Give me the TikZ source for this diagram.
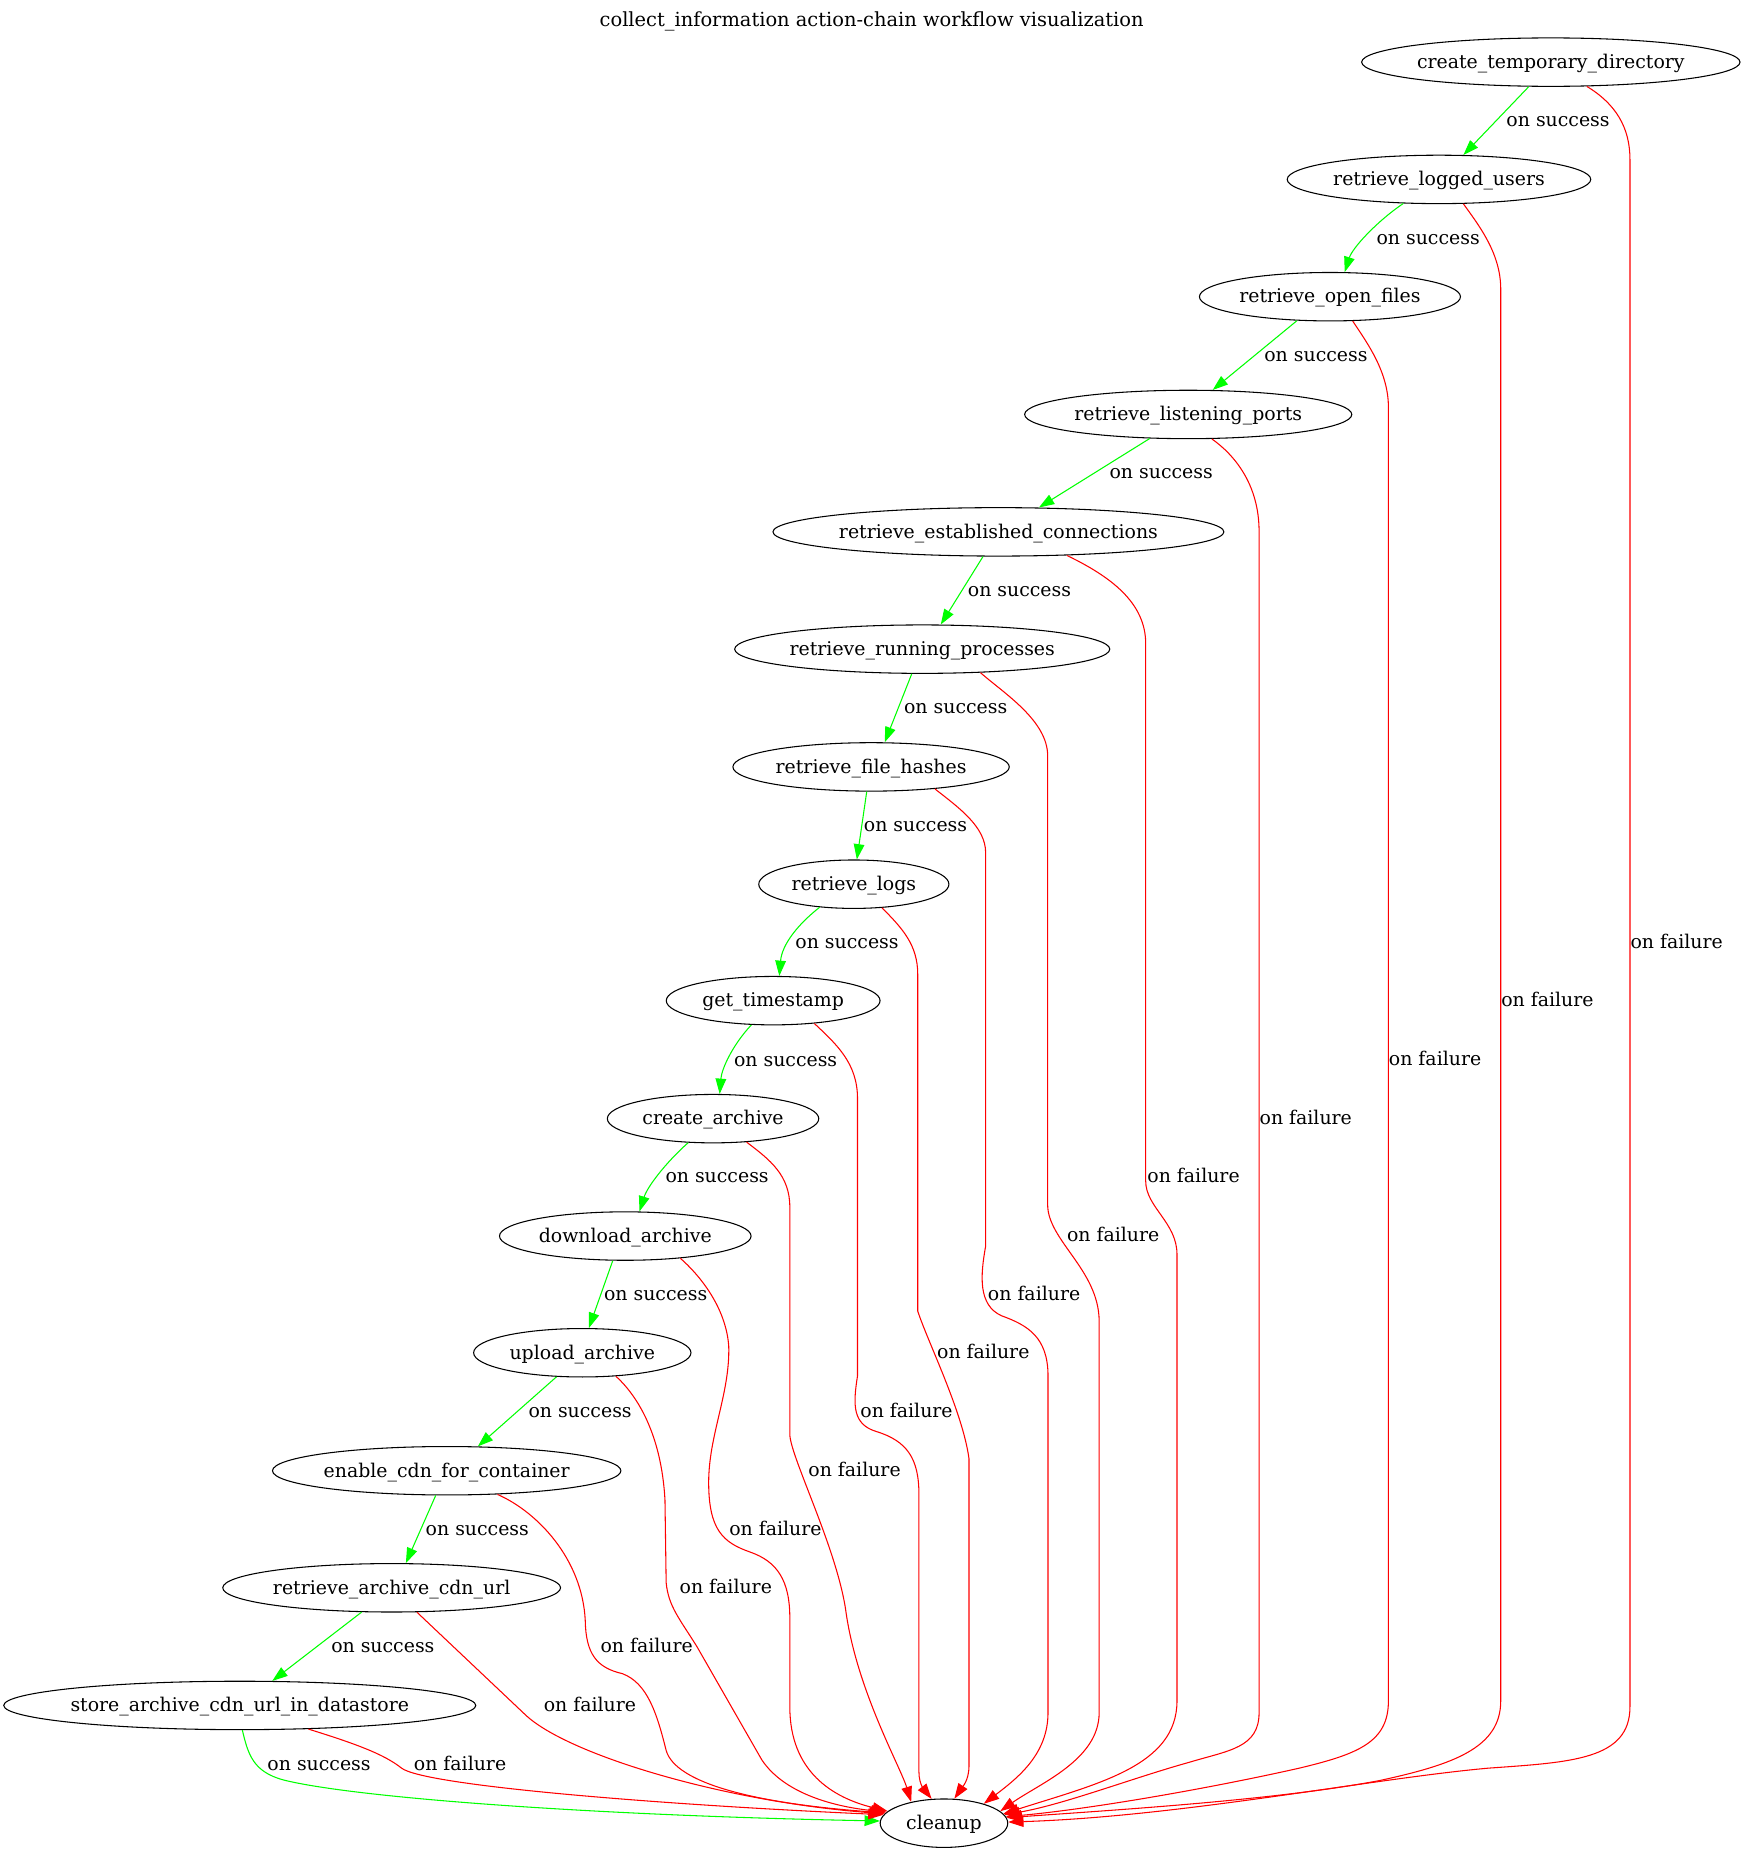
\documentclass[tikz,border=0pt]{standalone}
\usepackage{fontspec}
\setmainfont{DejaVu Serif}
\usetikzlibrary{shapes,arrows.meta,positioning,calc}
\definecolor{okgreen}{RGB}{0,255,0}
\definecolor{failred}{RGB}{255,0,0}
\tikzstyle{act} = [draw, ellipse, line width=0.9pt, inner xsep=0pt, minimum height=41pt, text height=13pt, text depth=2.4pt]
\tikzstyle{ok} = [draw, okgreen, line width=0.9pt, -{Triangle[length=13pt, width=9pt]}]
\tikzstyle{fail} = [draw, failred, line width=0.9pt, -{Triangle[length=13pt, width=9pt]}]
\tikzstyle{lbl} = [anchor=west, inner sep=0pt, text=black, text height=13pt, text depth=2.4pt]

\begin{document}
\begin{tikzpicture}[x=1pt, y=-1pt, font=\fontsize{16}{19}\selectfont]
    \useasboundingbox (0,0) rectangle (1477,1568);
    % Nodes
    \node (title) at (738,17.5) [text height=13pt, text depth=2.4pt, font=\fontsize{16.45}{19}\selectfont] {collect\_information action-chain workflow visualization};
    \node [act, minimum width=319pt] (tmpdir) at (1313,52.6) {create\_temporary\_directory};
    \node [act, minimum width=257pt] (users) at (1218.3,151.9) {retrieve\_logged\_users};
    \node [act, minimum width=221pt] (openfiles) at (1126,251.2) {retrieve\_open\_files};
    \node [act, minimum width=277pt] (ports) at (1006,350.9) {retrieve\_listening\_ports};
    \node [act, minimum width=378pt] (conns) at (845.3,450.3) {retrieve\_established\_connections};
    \node [act, minimum width=316pt] (procs) at (780.8,549.6) {retrieve\_running\_processes};
    \node [act, minimum width=234pt] (hashes) at (737.5,649.3) {retrieve\_file\_hashes};
    \node [act, minimum width=161pt] (logs) at (722.9,748.6) {retrieve\_logs};
    \node [act, minimum width=181pt] (stamp) at (654.6,847.2) {get\_timestamp};
    \node [act, minimum width=179pt] (mkarch) at (603.7,947.1) {create\_archive};
    \node [act, minimum width=213pt] (download) at (529.4,1046.5) {download\_archive};
    \node [act, minimum width=184pt] (upload) at (493,1145.3) {upload\_archive};
    \node [act, minimum width=295pt] (cdn) at (378.2,1245.2) {enable\_cdn\_for\_container};
    \node [act, minimum width=286pt] (cdnurl) at (331.6,1344.3) {retrieve\_archive\_cdn\_url};
    \node [act, minimum width=398pt, inner xsep=-2pt] (store) at (203,1443.9) {store\_archive\_cdn\_url\_in\_datastore};
    \node [act, minimum width=108pt] (cleanup) at (799.2,1543.6) {cleanup};

    % Paths: on success
    \path [ok] (tmpdir.228) -- (users.45) node [lbl] (s1) at (1275,102) {on success};
    \path [ok] (users.214) .. controls (1165,188) and (1145,210) .. (openfiles.59) node [lbl] (s2) at (1165,202) {on success};
    \path [ok] (openfiles.216) -- (ports.45) node [lbl] (s3) at (1070,301) {on success};
    \path [ok] (ports.212) -- (conns.31) node [lbl] (s4) at (939,400) {on success};
    \path [ok] (conns.238) -- (procs.53) node [lbl] (s5) at (819,500) {on success};
    \path [ok] (procs.247) -- (hashes.61) node [lbl] (s6) at (765,599) {on success};
    \path [ok] (hashes.260) -- (logs.83) node [lbl] (s7) at (731,699) {on success};
    \path [ok] (logs.214) .. controls (675,783) and (662,800) .. (stamp.76) node [lbl] (s8) at (673,798) {on success};
    \path [ok] (stamp.228) .. controls (620,885) and (611,905) .. (mkarch.75) node [lbl] (s9) at (621,898) {on success};
    \path [ok] (mkarch.224) .. controls (563,985) and (548,1005) .. (download.60) node [lbl] (s10) at (563,996) {on success};
    \path [ok] (download.243) -- (upload.75) node [lbl] (s11) at (511,1096) {on success};
    \path [ok] (upload.223) -- (cdn.38) node [lbl] (s12) at (447,1195) {on success};
    \path [ok] (cdn.246) -- (cdnurl.60) node [lbl] (s13) at (360,1295) {on success};
    \path [ok] (cdnurl.219) -- (store.37) node [lbl] (s14) at (280,1394) {on success};
    \path [ok] (store.276) .. controls (210,1485) and (214,1500) .. (240,1507) .. controls (300,1522) and (500,1537) .. (cleanup.178) node [lbl] (s15) at (226,1494) {on success};

    % Paths: on failure
    \path [fail] (tmpdir.326) .. controls (1368,88) and (1380,108) .. (1380,135) -- (1380,1445) .. controls (1380,1490) and (1330,1492) .. (1260,1497) .. controls (1160,1506) and (1000,1538) .. (cleanup.1) node [lbl] (f1) at (1380,798) {on failure};
    \path [fail] (users.315) .. controls (1253,192) and (1270.6,215) .. (1270.6,245) -- (1270.6,1440) .. controls (1270.6,1480) and (1230,1494) .. (1168,1507.5) .. controls (1080,1524) and (950,1532) .. (cleanup.5) node [lbl] (f2) at (1270.6,847) {on failure};
    \path [fail] (openfiles.313) .. controls (1158,291) and (1175.5,315) .. (1175.5,345) -- (1175.5,1440) .. controls (1175.5,1475) and (1150,1485) .. (1100,1497) .. controls (1020,1515) and (920,1532) .. (cleanup.6) node [lbl] (f3) at (1175.5,897) {on failure};
    \path [fail] (ports.314) .. controls (1045,385) and (1066,410) .. (1066,450) -- (1066,1450) .. controls (1066,1480) and (1040,1482) .. (1007,1492) .. controls (960,1505) and (900,1528) .. (cleanup.8) node [lbl] (f4) at (1066,947) {on failure};
    \path [fail] (conns.341) .. controls (940,488) and (970,510) .. (970,545) -- (970,1000) .. controls (970,1022) and (996.5,1035) .. (996.5,1062) -- (996.5,1440) .. controls (996.5,1495) and (930,1510) .. (cleanup.9) node [lbl] (f5) at (971,996) {on failure};
    \path [fail] (procs.338) .. controls (850,587) and (887,610) .. (887,640) -- (887,1020) .. controls (887,1050) and (930,1075) .. (930.6,1118) -- (930.6,1450) .. controls (930.6,1490) and (880,1510) .. (cleanup.12) node [lbl] (f6) at (903,1046) {on failure};
    \path [fail] (hashes.341) .. controls (812,684) and (834.5,700) .. (834.5,722) -- (834.5,1055) .. controls (830,1080) and (828,1105) .. (848,1114) .. controls (870,1122) and (887.3,1132) .. (887.3,1165) -- (887.3,1450) .. controls (887.3,1485) and (862,1505) .. (cleanup.26) node [lbl] (f7) at (836,1096) {on failure};
    \path [fail] (logs.320) .. controls (764,786) and (777,800) .. (777,825) -- (777,1110) .. controls (785,1135) and (815,1195) .. (820.4,1235) -- (820.4,1495) .. controls (820.4,1508) and (814,1514) .. (cleanup.67) node [lbl] (f8) at (793,1145) {on failure};
    \path [fail] (stamp.331) .. controls (708,884) and (726,900) .. (726,930) -- (726,1165) .. controls (722,1190) and (722,1206) .. (742,1212) .. controls (768,1220) and (778,1235) .. (778,1265) -- (778,1500) .. controls (778,1512) and (784,1517) .. (cleanup.117) node [lbl] (f9) at (728,1195) {on failure};
    \path [fail] (mkarch.325) .. controls (652,982) and (668.7,995) .. (668.7,1022) -- (668.7,1215) .. controls (670,1235) and (708,1310) .. (716,1363) .. controls (725,1430) and (762,1495) .. (cleanup.147) node [lbl] (f10) at (684,1245) {on failure};
    \path [fail] (download.338) .. controls (596,1083) and (615,1110) .. (617,1140) .. controls (618,1180) and (600,1215) .. (600,1255) .. controls (600,1295) and (612,1306) .. (635,1314) .. controls (658,1322) and (668.7,1338) .. (668.7,1370) -- (668.7,1445) .. controls (668.7,1500) and (705,1522) .. (cleanup.168) node [lbl] (f11) at (617,1295) {on failure};
    \path [fail] (upload.325) .. controls (540,1182) and (560,1215) .. (563,1270) -- (564,1340) .. controls (566,1360) and (575,1370) .. (590,1394) -- (645,1490) .. controls (665,1520) and (710,1530) .. (cleanup.169) node [lbl] (f12) at (575,1344) {on failure};
    \path [fail] (cdn.335) .. controls (455,1280) and (493,1320) .. (495.5,1372) .. controls (496,1400) and (505,1412) .. (527,1417) .. controls (548,1425) and (556,1450) .. (564,1482) .. controls (572,1510) and (640,1527) .. (cleanup.170) node [lbl] (f13) at (508,1394) {on failure};
    \path [fail] (cdnurl.316) -- (445,1452) .. controls (480,1485) and (610,1525) .. (cleanup.171) node [lbl] (f14) at (460,1444) {on failure};
    \path [fail] (store.341) .. controls (300,1476) and (325,1485) .. (340,1497) .. controls (360,1512) and (560,1528) .. (cleanup.172) node [lbl] (f15) at (350,1494) {on failure};
\end{tikzpicture}
\end{document}
